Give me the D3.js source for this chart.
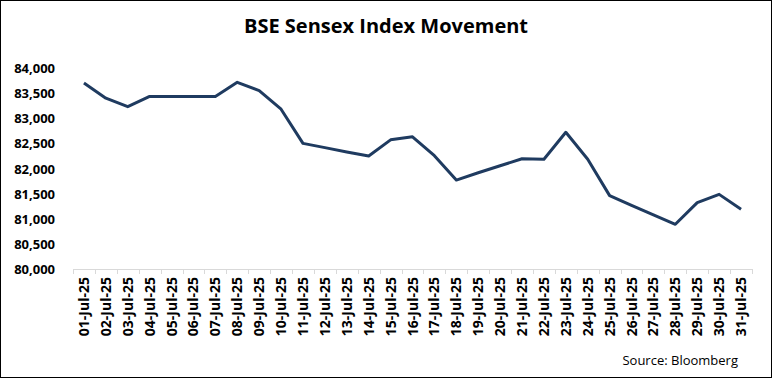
<html>
<head>
<style>
  body{margin:0;background:#fff}
  .chart text{font-family:"Open Sans",sans-serif;fill:#000}
</style>
</head>
<body>
<div id="sensex"></div>
<script src="https://cdnjs.cloudflare.com/ajax/libs/d3/7.8.5/d3.min.js"></script>
<script>
var dates = ['01-Jul-25','02-Jul-25','03-Jul-25','04-Jul-25','05-Jul-25','06-Jul-25','07-Jul-25',
  '08-Jul-25','09-Jul-25','10-Jul-25','11-Jul-25','12-Jul-25','13-Jul-25','14-Jul-25','15-Jul-25',
  '16-Jul-25','17-Jul-25','18-Jul-25','19-Jul-25','20-Jul-25','21-Jul-25','22-Jul-25','23-Jul-25',
  '24-Jul-25','25-Jul-25','26-Jul-25','27-Jul-25','28-Jul-25','29-Jul-25','30-Jul-25','31-Jul-25'];
var sensex = [83700, 83400, 83230, 83435, 83435, 83435, 83435,
  83715, 83550, 83180, 82500, 82415, 82330, 82250, 82570,
  82630, 82255, 81770, 81915, 82055, 82195, 82185, 82720,
  82185, 81460, 81265, 81075, 80890, 81320, 81485, 81190];
var yTicks = [80000, 80500, 81000, 81500, 82000, 82500, 83000, 83500, 84000];

(function () {
  var
    width  = 772,
    height = 378,
    left   = 73,
    right  = 752,
    top    = 68,
    bottom = 269,
    svg    = d3.select('#sensex').append('svg')
               .attr('class', 'chart')
               .attr('width', width)
               .attr('height', height),
    x      = d3.scaleBand().domain(dates).range([left, right]),
    y      = d3.scaleLinear().domain([80000, 84000]).range([bottom, top]),
    fmt    = d3.format(',');

  svg.append('rect')
    .attr('x', 0.5).attr('y', 0.5)
    .attr('width', width - 1).attr('height', height - 1)
    .attr('fill', '#fff')
    .attr('stroke', '#000');

  // title
  svg.append('text')
    .attr('x', 386).attr('y', 33)
    .attr('text-anchor', 'middle')
    .style('font-size', '20px')
    .style('font-weight', 'bold')
    .text('BSE Sensex Index Movement');

  // y labels, no axis line
  svg.append('g').selectAll('text')
    .data(yTicks).enter().append('text')
    .attr('x', 55)
    .attr('y', function (d) { return y(d) + 5; })
    .attr('text-anchor', 'end')
    .style('font-size', '13px')
    .style('font-weight', 'bold')
    .text(function (d) { return fmt(d); });

  // x axis with ticks between categories
  var xa = svg.append('g');
  xa.append('line')
    .attr('x1', left).attr('x2', right)
    .attr('y1', bottom + 0.5).attr('y2', bottom + 0.5)
    .attr('stroke', '#d9d9d9');
  xa.selectAll('line.tick')
    .data(dates.concat([null])).enter().append('line')
    .attr('class', 'tick')
    .attr('x1', function (d, i) { return Math.round(left + i * x.step()) + 0.5; })
    .attr('x2', function (d, i) { return Math.round(left + i * x.step()) + 0.5; })
    .attr('y1', bottom).attr('y2', bottom + 5)
    .attr('stroke', '#d9d9d9');
  xa.selectAll('text')
    .data(dates).enter().append('text')
    .attr('transform', function (d) {
      return 'translate(' + (x(d) + x.bandwidth() / 2 + 5) + ',' + (bottom + 8) + ') rotate(-90)';
    })
    .attr('text-anchor', 'end')
    .style('font-size', '14px')
    .style('font-weight', 'bold')
    .text(function (d) { return d; });

  // the line
  var line = d3.line()
    .x(function (d, i) { return x(dates[i]) + x.bandwidth() / 2; })
    .y(function (d) { return y(d); });

  svg.append('path')
    .datum(sensex)
    .attr('d', line)
    .attr('fill', 'none')
    .attr('stroke', '#1f3b60')
    .attr('stroke-width', 3)
    .attr('stroke-linejoin', 'round');

  svg.append('text')
    .attr('x', 738).attr('y', 365)
    .attr('text-anchor', 'end')
    .style('font-size', '13px')
    .text('Source: Bloomberg');
})();
</script>
</body>
</html>
